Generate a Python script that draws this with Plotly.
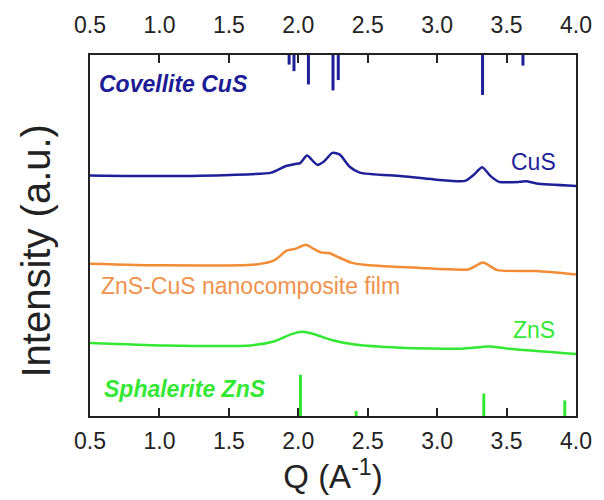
import plotly.graph_objects as go

# ---- data (intensity in arbitrary units, offset traces) ----
cus_q = [0.50, 1.02, 1.51, 1.805, 1.903, 1.977, 2.013, 2.063, 2.136, 2.185, 2.246, 2.299, 2.368, 2.442, 2.736, 2.981, 3.201, 3.262, 3.324, 3.385, 3.446, 3.593, 3.642, 3.716, 4.00]
cus_i = [242.6, 241.9, 243.0, 245.4, 251.6, 254.0, 255.0, 262.6, 253.3, 256.7, 265.3, 263.6, 251.6, 245.4, 241.9, 238.5, 237.1, 243.0, 250.9, 241.9, 236.1, 236.1, 236.8, 234.4, 232.0]

comp_q = [0.50, 1.02, 1.707, 1.83, 1.915, 1.977, 2.055, 2.111, 2.16, 2.221, 2.295, 2.38, 2.491, 2.858, 3.225, 3.331, 3.434, 3.716, 4.00]
comp_i = [153.6, 151.9, 153.0, 157.1, 166.7, 168.5, 172.6, 168.5, 165.0, 164.3, 159.8, 154.7, 152.3, 149.5, 147.8, 154.7, 147.1, 146.1, 142.6]

zns_q = [0.50, 1.02, 1.658, 1.83, 1.952, 2.03, 2.111, 2.246, 2.393, 2.736, 3.177, 3.373, 3.519, 4.00]
zns_i = [73.6, 71.2, 71.2, 75.4, 82.6, 85.0, 82.6, 76.4, 72.3, 68.8, 67.8, 70.2, 67.8, 62.6]

# reference stick patterns
covellite_q = [1.934, 1.969, 2.073, 2.250, 2.288, 3.327, 3.618]
covellite_len = [9.7, 16.3, 29.7, 35.7, 25.3, 40.3, 10.7]
sphalerite_q = [2.016, 2.417, 3.336, 3.919]
sphalerite_len = [41.5, 5.0, 22.6, 15.7]

y_max = 364
x_range = [0.5, 4.0]
tick_vals = [0.5, 1.0, 1.5, 2.0, 2.5, 3.0, 3.5, 4.0]
tick_text = ["0.5", "1.0", "1.5", "2.0", "2.5", "3.0", "3.5", "4.0"]

BLUE = "#1f1f9a"
ORANGE = "#f28c35"
GREEN = "#33e833"
FONT = "Liberation Sans, Arial, sans-serif"
INK = "#222"

def sticks(qs, y0s, y1s):
    xs, ys = [], []
    for q, a, b in zip(qs, y0s, y1s):
        xs += [q, q, None]
        ys += [a, b, None]
    return xs, ys

fig = go.Figure()

cx, cy = sticks(covellite_q, [y_max] * len(covellite_q), [y_max - l for l in covellite_len])
fig.add_trace(go.Scatter(x=cx, y=cy, mode="lines", line=dict(color=BLUE, width=3),
                         xaxis="x2", yaxis="y", hoverinfo="skip", showlegend=False))
sx, sy = sticks(sphalerite_q, [0] * len(sphalerite_q), sphalerite_len)
fig.add_trace(go.Scatter(x=sx, y=sy, mode="lines", line=dict(color=GREEN, width=3),
                         hoverinfo="skip", showlegend=False))

for q, i, c in [(cus_q, cus_i, BLUE), (comp_q, comp_i, ORANGE), (zns_q, zns_i, GREEN)]:
    fig.add_trace(go.Scatter(x=q, y=i, mode="lines", line=dict(color=c, width=2.5, shape="spline", smoothing=0.6),
                             showlegend=False))

def label(text, x, y, color, anchor, bold=False):
    t = f"<b><i>{text}</i></b>" if bold else text
    fig.add_annotation(x=x, y=y, xref="x", yref="y", text=t, showarrow=False,
                       xanchor=anchor, yanchor="middle",
                       font=dict(family=FONT, size=23, color=color))

label("Covellite CuS", 0.55, 335, "#1c1c96", "left", bold=True)
label("CuS", 3.87, 256, BLUE, "right")
label("ZnS-CuS nanocomposite film", 0.565, 131, "#f0924c", "left")
label("ZnS", 3.86, 87, GREEN, "right")
label("Sphalerite ZnS", 0.585, 27, GREEN, "left", bold=True)

# y-axis title
fig.add_annotation(x=0, y=0.5, xref="paper", yref="paper", xshift=-55, yshift=-16,
                   text="Intensity (a.u.)", textangle=-90, showarrow=False,
                   xanchor="center", yanchor="middle",
                   font=dict(family=FONT, size=40, color=INK))

axis_common = dict(range=x_range, tickvals=tick_vals, ticktext=tick_text,
                   ticks="inside", ticklen=8, tickwidth=2, tickcolor=INK,
                   tickfont=dict(family=FONT, size=23, color=INK),
                   ticklabeloverflow="allow",
                   showgrid=False, zeroline=False)

fig.update_layout(
    width=604, height=500,
    margin=dict(l=90, r=22, t=52, b=84),
    plot_bgcolor="white", paper_bgcolor="white",
    xaxis=dict(**axis_common, showline=True, linecolor=INK, linewidth=2, mirror=True,
               ticklabelstandoff=3,
               title=dict(text="Q (A<sup>-1</sup>)", font=dict(family=FONT, size=33, color=INK), standoff=4)),
    xaxis2=dict(**axis_common, overlaying="x", side="top", anchor="y", showline=False,
                ticklabelstandoff=16),
    yaxis=dict(range=[0, y_max], showline=True, linecolor=INK, linewidth=2, mirror=True,
               ticks="", showticklabels=False, showgrid=False, zeroline=False),
)

fig.write_html("out.html")
